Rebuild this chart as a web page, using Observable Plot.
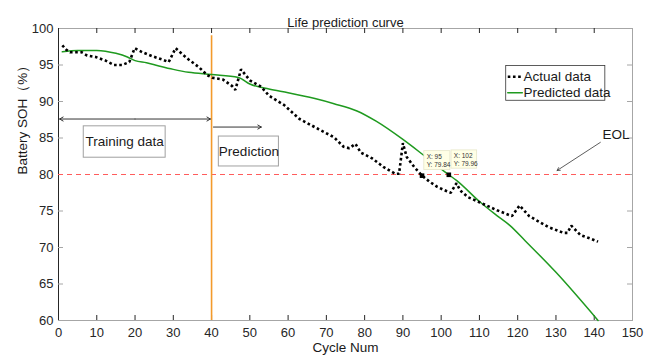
<!DOCTYPE html>
<html><head><meta charset="utf-8">
<script src="https://cdn.jsdelivr.net/npm/d3@7"></script>
<script src="https://cdn.jsdelivr.net/npm/@observablehq/plot@0.6"></script>
<style>body{margin:0;background:#fff} svg{display:block}</style>
</head><body><div id="chart"></div>
<script>
// ---- data ----
const actualCycle = [1,2,3,6,7.5,9.7,12.3,14.5,16.6,18.5,19.9,21.9,24.5,27.1,28.8,30.6,32.3,34,36.7,38.9,40.2,43,45.4,46.2,47.7,50,53,55,59,63,68,72,74.5,76,77.6,79,82,85,88,89,90,91,93,95,97,99,101.5,102.5,104,105,107,110,114.6,118.5,120.5,123,128,132,133,134,136.4,138.6,141];
const actualSOH   = [97.7,97.1,96.75,96.75,96.3,96.1,95.6,95.0,95.0,95.4,97.3,96.75,96.2,95.75,95.4,97.3,96.5,95.75,94.7,93.6,93.25,93.0,92.1,91.6,94.4,92.9,92.0,90.8,89.5,87.6,86.2,85.1,83.8,83.6,84.2,83.0,82.2,81.0,80.1,80.1,84.3,82.4,81.0,79.84,79.0,78.3,77.7,77.5,78.8,77.8,76.9,76.2,75.1,74.3,75.75,74.3,72.8,72.0,72.0,73.0,71.7,71.3,70.8];
const predCycle = [1,5,10,15,18,20,23,26,30,34,40,47,50,55,60,67,72,78,83,90,96,102,104,110,114,118,122,130,141];
const predSOH   = [96.8,97.0,97.0,96.6,96.1,95.6,95.3,94.9,94.4,94.0,93.7,93.3,92.4,91.7,91.2,90.4,89.7,88.7,87.3,84.8,82.4,79.96,79.2,76.3,74.6,73.0,70.9,66.6,60.0];
const xTicks = [0,10,20,30,40,50,60,70,80,90,100,110,120,130,140,150];
const yTicks = [60,65,70,75,80,85,90,95,100];
const eolSOH = 80;
const splitCycle = 40;
const tipPoints = [{x:95, y:79.84}, {x:102, y:79.96}];

const actual = actualCycle.map((c,i)=>({x:c, y:actualSOH[i]}));
const pred = predCycle.map((c,i)=>({x:c, y:predSOH[i]}));

// ---- annotation layout (data coordinates) ----
const boxes = [
  {x1:6.6, x2:28.0, y1:82.3, y2:86.6, label:"Training data"},
  {x1:41.9, x2:57.6, y1:81.1, y2:85.2, label:"Prediction"}
];
const tips = [
  {x1:95.6, x2:102.4, y1:80.6, y2:83.2, l1:"X: 95", l2:"Y: 79.84"},
  {x1:102.7, x2:109.4, y1:80.8, y2:83.3, l1:"X: 102", l2:"Y: 79.96"}
];
const legendBox = {x1:117, x2:142.9, y1:90.1, y2:94.85};
const legendItems = [
  {label:"Actual data", y:93.4},
  {label:"Predicted data", y:91.2}
];

const font = "'Liberation Sans', Arial, sans-serif";
const G = "#1f9a1f";
const DOT = {stroke:"#000", strokeWidth:2.6, strokeDasharray:"2.6,2.6", strokeLinecap:"butt", strokeLinejoin:"miter"};

const chart = Plot.plot({
  width: 657, height: 358,
  marginLeft: 58, marginRight: 25, marginTop: 28, marginBottom: 38,
  style: {fontFamily: font, fontSize: "12px", color: "#262626", background: "#fff"},
  x: {domain: [0,150]},
  y: {domain: [60,100]},
  marks: [
    Plot.frame({stroke: "#a6a6a6"}),
    Plot.ruleX([0], {stroke: "#262626"}),
    // inward ticks
    Plot.ruleX(xTicks.slice(1,-1), {insetTop: 287, stroke: "#262626"}),
    Plot.ruleX(xTicks.slice(1,-1), {insetBottom: 287, stroke: "#262626"}),
    Plot.ruleY(yTicks.slice(1,-1), {insetLeft: 569, stroke: "#a6a6a6"}),
    Plot.ruleY(yTicks.slice(1,-1), {insetRight: 569, stroke: "#a6a6a6"}),
    Plot.axisX(xTicks, {tickSize: 0, tickPadding: 7, fontSize: 13, fill: "#262626"}),
    Plot.axisY(yTicks, {tickSize: 0, tickPadding: 5, fontSize: 13, fill: "#262626"}),
    // EOL line and split line
    Plot.ruleY([eolSOH], {stroke: "#ff5c5c", strokeDasharray: "5,4", strokeWidth: 1.2}),
    Plot.ruleX([splitCycle], {y1: 99, y2: 60, stroke: "#f39a2b", strokeWidth: 1.6}),
    // series
    Plot.line(pred, {x: "x", y: "y", stroke: G, strokeWidth: 1.5, curve: "monotone-x"}),
    Plot.line(actual, {x: "x", y: "y", ...DOT}),
    // training / prediction arrows
    Plot.arrow([{x1:20,x2:0.3,y:87.6},{x1:20,x2:39.7,y:87.6}], {x1:"x1", x2:"x2", y1:"y", y2:"y", stroke:"#333", strokeWidth:1, headLength:6}),
    Plot.arrow([{x1:40.5,x2:53,y:86.5}], {x1:"x1", x2:"x2", y1:"y", y2:"y", stroke:"#333", strokeWidth:1, headLength:6}),
    Plot.rect(boxes, {x1:"x1", x2:"x2", y1:"y1", y2:"y2", fill:"#fff", stroke:"#a0a0a0"}),
    Plot.text(boxes, {x: d=>(d.x1+d.x2)/2, y: d=>(d.y1+d.y2)/2, text:"label", fontSize: 13.5, fill:"#1a1a1a"}),
    // EOL annotation
    Plot.arrow([{x1:141.6,y1:84.4,x2:130.3,y2:80.55}], {x1:"x1",y1:"y1",x2:"x2",y2:"y2", stroke:"#333", strokeWidth:0.8, headLength:6}),
    Plot.text(["EOL"], {x: 145.7, y: 85.5, fontSize: 13.5, fill:"#1a1a1a"}),
    // data tips
    Plot.rect(tips, {x1:"x1", x2:"x2", y1:"y1", y2:"y2", fill:"#ffffe6", stroke:"#e6e6c8", strokeWidth:0.8}),
    Plot.text(tips, {x: d=>d.x1+0.6, y: d=>d.y2-0.75, text:"l1", fontSize: 6.5, textAnchor:"start", fill:"#333"}),
    Plot.text(tips, {x: d=>d.x1+0.6, y: d=>d.y2-1.85, text:"l2", fontSize: 6.5, textAnchor:"start", fill:"#333"}),
    Plot.dot(tipPoints, {x:"x", y:"y", symbol:"square", r:2.6, fill:"#000"}),
    // legend
    Plot.rect([legendBox], {x1:"x1", x2:"x2", y1:"y1", y2:"y2", fill:"#fff", stroke:"#333", strokeWidth:0.8}),
    Plot.line([{x:117.4,y:legendItems[0].y},{x:121.2,y:legendItems[0].y}], {x:"x", y:"y", ...DOT}),
    Plot.line([{x:117.4,y:legendItems[1].y},{x:121.2,y:legendItems[1].y}], {x:"x", y:"y", stroke:G, strokeWidth:1.5}),
    Plot.text(legendItems, {x: 121.5, y:"y", text:"label", textAnchor:"start", fontSize: 13.5, fill:"#1a1a1a"}),
    // titles
    Plot.text(["Life prediction curve"], {frameAnchor:"top", dy:-11, fontSize: 13, fill:"#1a1a1a"}),
    Plot.text(["Cycle Num"], {frameAnchor:"bottom", dy:31, fontSize: 13.5, fill:"#1a1a1a"}),
    Plot.text(["Battery SOH（%）"], {frameAnchor:"left", dx:-36, rotate:-90, fontSize: 13.5, fill:"#1a1a1a"})
  ]
});
document.getElementById("chart").append(chart);
</script>
</body></html>
